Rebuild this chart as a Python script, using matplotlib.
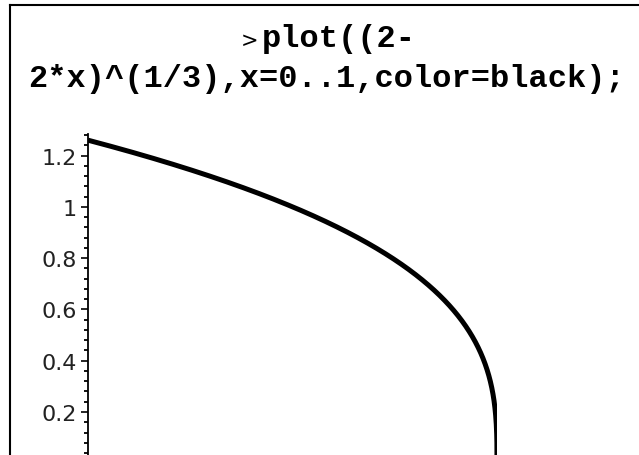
import numpy as np
import matplotlib
matplotlib.use("Agg")
import matplotlib.pyplot as plt
from matplotlib.lines import Line2D
from matplotlib.ticker import MultipleLocator, FuncFormatter

# Worksheet command shown above the plot
PROMPT = ">"
CMD_LINE1 = "plot((2-"
CMD_LINE2 = "2*x)^(1/3),x=0..1,color=black);"

# Plot range from the command: x = 0..1
X_RANGE = [0.0, 1.0]
N_SAMPLES = 4001
Y_MAJOR = 0.2
Y_MINOR = 0.04
Y_LIMITS = [0.0, 1.284]

x = np.linspace(X_RANGE[0], X_RANGE[1], N_SAMPLES)
y = np.cbrt(2 - 2 * x)   # (2-2*x)^(1/3)

W, H = 639, 456
fig = plt.figure(figsize=(W / 100, H / 100), dpi=100)
fig.patch.set_facecolor("white")

# worksheet frame: left and top edges
fig.add_artist(Line2D([10 / W, 10 / W], [0, 1 - 6 / H], transform=fig.transFigure,
                      color="black", lw=1.5))
fig.add_artist(Line2D([10 / W, 1], [1 - 6 / H, 1 - 6 / H], transform=fig.transFigure,
                      color="black", lw=1.5))

# command text
fig.text(258 / W, 1 - 47 / H, PROMPT, ha="right", va="baseline",
         fontsize=15, family="DejaVu Sans")
fig.text(262 / W, 1 - 47 / H, CMD_LINE1, ha="left", va="baseline",
         fontsize=23, family="Liberation Mono", fontweight="bold")
fig.text(327 / W, 1 - 87 / H, CMD_LINE2, ha="center", va="baseline",
         fontsize=23, family="Liberation Mono", fontweight="bold")

# plot area (the x-axis sits below the visible region)
ax_left, ax_right = 88 / W, 497 / W
ax_bottom = 1 - 464.3 / H
ax_top = 1 - 135 / H
ax = fig.add_axes([ax_left, ax_bottom, ax_right - ax_left, ax_top - ax_bottom])
ax.plot(x, y, color="black", lw=3.6, solid_capstyle="butt")

ax.set_xlim(*X_RANGE)
ax.set_ylim(*Y_LIMITS)
for side in ("top", "right", "bottom"):
    ax.spines[side].set_visible(False)
ax.spines["left"].set_linewidth(1.3)
ax.xaxis.set_visible(False)

ax.yaxis.set_major_locator(MultipleLocator(Y_MAJOR))
ax.yaxis.set_minor_locator(MultipleLocator(Y_MINOR))
ax.yaxis.set_major_formatter(FuncFormatter(lambda v, _: "" if v < 0.1 else f"{v:g}"))
ax.tick_params(axis="y", which="major", length=5, width=1.2, pad=3,
               labelsize=16, labelcolor="#222222")
ax.tick_params(axis="y", which="minor", length=3, width=1.3)
ax.patch.set_alpha(0)

fig.savefig("out.png", dpi=100)
